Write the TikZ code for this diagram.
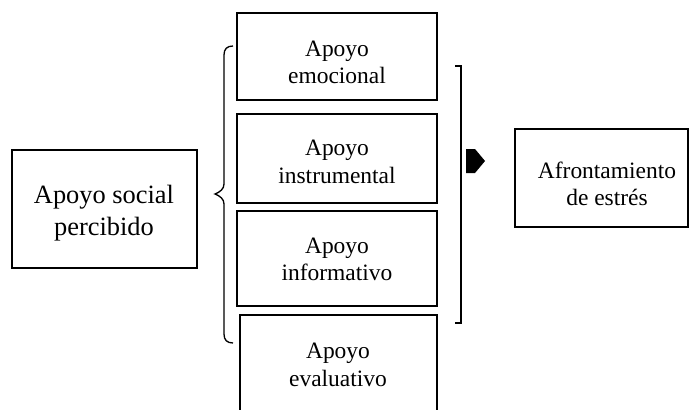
\documentclass[tikz,border=0pt]{standalone}
\usepackage{fontspec}
\setmainfont{Liberation Serif}
\usetikzlibrary{fit}
\begin{document}
\begin{tikzpicture}[x=0.75pt,y=-0.75pt,
  box/.style={draw, line width=1pt, inner sep=0pt},
  txt/.style={anchor=base, inner sep=0pt, font=\fontsize{17.6}{20}\selectfont},
  bigtxt/.style={anchor=base, inner sep=0pt, font=\fontsize{19.8}{24}\selectfont},
  ln/.style={line width=1pt}]
\useasboundingbox (0,0) rectangle (689,410);
\clip (0,0) rectangle (689,410);
% boxes
\node[box, fit={(12,150) (197,268)}] (aps) {};
\node[box, fit={(237,13) (437,100)}] (emo) {};
\node[box, fit={(237,114) (437,203)}] (ins) {};
\node[box, fit={(237,211) (437,306)}] (inf) {};
\node[box, fit={(240,315) (437,440)}] (eva) {};
\node[box, fit={(515,129) (688,227)}] (afr) {};
% texts
\node[bigtxt] (aps1) at (104,203) {Apoyo social};
\node[bigtxt] (aps2) at (104,235) {percibido};
\node[txt] (emo1) at (337,57) {Apoyo};
\begin{scope}
\clip (237,13) rectangle (437,83.5);
\node[txt] (emo2) at (337,84) {emocional};
\end{scope}
\node[txt] (ins1) at (337,156) {Apoyo};
\node[txt] (ins2) at (337,183) {instrumental};
\node[txt] (inf1) at (337,253) {Apoyo};
\node[txt] (inf2) at (337,280) {informativo};
\node[txt] (eva1) at (338,358) {Apoyo};
\node[txt] (eva2) at (338,386) {evaluativo};
\node[txt] (afr1) at (607,178) {Afrontamiento};
\node[txt] (afr2) at (607,205) {de estrés};
% left brace
\draw[ln] (233,46) .. controls (227,46) and (224,49) .. (224,55) -- (224,184)
  .. controls (224,189) and (220,192) .. (215,194)
  .. controls (220,196) and (224,199) .. (224,204) -- (224,334)
  .. controls (224,340) and (227,343) .. (233,343);
% right bracket
\draw[ln] (455,66) -- (461,66) -- (461,323) -- (455,323);
% arrow head
\fill (466,149) -- (475,149) -- (485,161) -- (475,173) -- (466,173) -- cycle;
\end{tikzpicture}
\end{document}
